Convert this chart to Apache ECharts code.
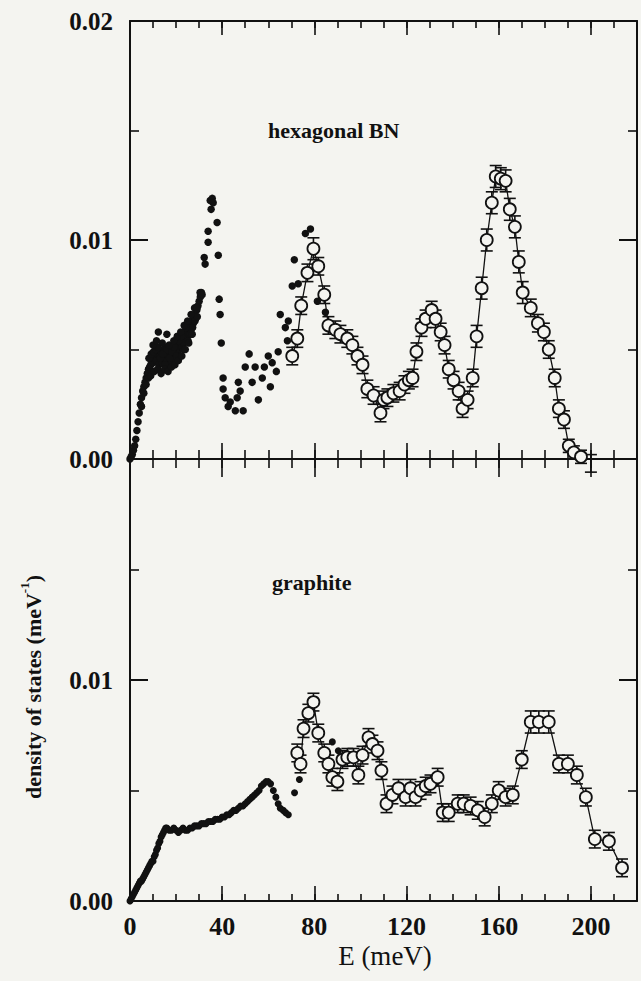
<!DOCTYPE html>
<html>
<head>
<meta charset="utf-8">
<script src="https://cdn.jsdelivr.net/npm/echarts@6/dist/echarts.min.js"></script>
<style>
  html, body { margin: 0; padding: 0; background: #f4f4f0; }
  #chart { width: 641px; height: 981px; }
</style>
</head>
<body>
<div id="chart"></div>
<script>
// ---- hexagonal BN: measured points (filled dots) ----
const hbnDotE = [
  0, 0.5, 1, 1.5, 2, 2.5, 3, 3.5, 4, 4.5, 5, 5.5, 6, 6.5, 7, 7.5, 8, 8.5, 9, 9.5,
  10, 10.5, 11, 11.5, 12, 12.5, 13, 13.5, 14, 14.5, 15, 15.5, 16, 16.5, 17, 17.5, 18, 18.5, 19, 19.5,
  20, 20.5, 21, 21.5, 22, 22.5, 23, 23.5, 24, 24.5, 25, 25.5, 26, 26.5, 27, 27.5, 28, 28.5, 29, 29.5,
  30, 30.5, 31,
  5, 6, 7, 8,
  8.2, 9.2, 10.2, 11.2, 12.2, 13.2, 14.2, 15.2, 16.2, 17.2, 18.2, 19.2, 20.2, 21.2, 22.2, 23.2, 24.2, 25.2, 26.2, 27.2, 28.2, 29.2,
  9, 10.5, 12, 13.5, 15, 16.5, 18, 19.5, 21, 22.5, 24, 25.5, 27,
  10, 11.5, 12.3, 14, 16, 17, 19, 20.5, 22, 23.5, 25, 26.5, 28, 29.1, 30.4,
  31.3, 32.2, 32.6, 33.9, 33.9, 34.8, 35.2, 35.7, 36.1, 37.8, 38.3, 38.7, 39.1, 39.6,
  40.4, 40.4, 41.3, 42.6, 43.5, 45.7, 46.5, 47.8, 49.1, 47.0, 50.0, 51.7, 53.0, 54.3,
  55.7, 57.4, 58.3, 60.0, 60.9, 61.7, 63.5, 64.3, 65.2, 67.4, 68.7, 68.3, 70.4, 71.3,
  73.0, 76.1, 78.3, 81.3, 84.8
];
const hbnDotDOS = [
  0.0000, 0.0001, 0.0002, 0.0004, 0.0006, 0.0009, 0.0013, 0.0017, 0.0021, 0.0025, 0.0028, 0.0031, 0.0033, 0.0035, 0.0037, 0.0039, 0.0041, 0.0042, 0.0043, 0.0045,
  0.0044, 0.0046, 0.0047, 0.0045, 0.0048, 0.0043, 0.0047, 0.0049, 0.0044, 0.0050, 0.0046, 0.0051, 0.0045, 0.0048, 0.0042, 0.0049, 0.0044, 0.0047, 0.0049, 0.0046,
  0.0050, 0.0048, 0.0052, 0.0050, 0.0053, 0.0051, 0.0055, 0.0053, 0.0057, 0.0055, 0.0059, 0.0057, 0.0061, 0.0059, 0.0063, 0.0062, 0.0066, 0.0064, 0.0068, 0.0070,
  0.0072, 0.0074, 0.0076,
  0.0024, 0.0030, 0.0034, 0.0037,
  0.0046, 0.0048, 0.0049, 0.0050, 0.0051, 0.0046, 0.0048, 0.0043, 0.0050, 0.0046, 0.0049, 0.0051, 0.0047, 0.0054, 0.0056, 0.0050, 0.0060, 0.0054, 0.0057, 0.0060, 0.0063, 0.0065,
  0.0038, 0.0040, 0.0041, 0.0039, 0.0041, 0.0040, 0.0042, 0.0043, 0.0045, 0.0047, 0.0050, 0.0053, 0.0057,
  0.0052, 0.0054, 0.0058, 0.0053, 0.0057, 0.0052, 0.0054, 0.0056, 0.0058, 0.0061, 0.0063, 0.0066, 0.0069, 0.0069, 0.0076,
  0.0075, 0.0092, 0.0089, 0.0099, 0.0104, 0.0118, 0.0114, 0.0119, 0.0117, 0.0108, 0.0093, 0.0073, 0.0066, 0.0053,
  0.0037, 0.0032, 0.0028, 0.0024, 0.0026, 0.0022, 0.0028, 0.0031, 0.0022, 0.0035, 0.0042, 0.0048, 0.0035, 0.0042,
  0.0027, 0.0037, 0.0042, 0.0047, 0.0033, 0.0044, 0.0040, 0.0049, 0.0066, 0.0060, 0.0063, 0.0054, 0.0079, 0.0091,
  0.0080, 0.0103, 0.0105, 0.0072, 0.0067
];

// ---- hexagonal BN: analysed spectrum (open circles, +/- error) ----
const hbnE = [
  70.4, 72.6, 74.3, 77.0, 79.6, 81.7, 84.3, 86.1, 89.1, 91.3, 94.3, 96.5, 98.7, 100.9, 103.0, 105.7,
  108.7, 110.0, 111.7, 114.3, 117.0, 119.1, 121.0, 122.6, 124.3, 126.5, 128.3, 130.9, 132.6, 134.8,
  136.5, 138.3, 140.4, 142.6, 144.3, 146.5, 148.7, 150.4, 152.6, 154.8, 157.0, 158.7, 160.9, 163.0,
  164.8, 167.0, 168.7, 170.4, 173.9, 177.0, 179.6, 181.7, 184.3, 186.1, 188.3, 190.4, 192.6, 195.7, 200.0
];
const hbnDOS = [
  0.0047, 0.0055, 0.0070, 0.0085, 0.0096, 0.0088, 0.0075, 0.0061, 0.0059, 0.0057, 0.0055, 0.0052, 0.0047, 0.0043, 0.0032, 0.0029,
  0.0021, 0.0027, 0.0028, 0.0030, 0.0031, 0.0034, 0.0036, 0.0037, 0.0049, 0.0060, 0.0064, 0.0068, 0.0064, 0.0058,
  0.0052, 0.0041, 0.0036, 0.0031, 0.0023, 0.0027, 0.0037, 0.0056, 0.0078, 0.0100, 0.0117, 0.0129, 0.0128, 0.0127,
  0.0114, 0.0106, 0.0090, 0.0076, 0.0069, 0.0062, 0.0058, 0.0050, 0.0037, 0.0023, 0.0018, 0.0006, 0.0003, 0.0001, -0.0002
];
const hbnErr = [
  0.0004, 0.0004, 0.0004, 0.0004, 0.0005, 0.0004, 0.0004, 0.0004, 0.0004, 0.0004, 0.0004, 0.0004, 0.0004, 0.0004, 0.0004, 0.0004,
  0.0004, 0.0004, 0.0004, 0.0004, 0.0004, 0.0004, 0.0004, 0.0004, 0.0004, 0.0004, 0.0004, 0.0004, 0.0004, 0.0004,
  0.0004, 0.0004, 0.0004, 0.0004, 0.0004, 0.0004, 0.0004, 0.0005, 0.0005, 0.0005, 0.0005, 0.0005, 0.0005, 0.0005,
  0.0005, 0.0005, 0.0005, 0.0005, 0.0004, 0.0004, 0.0004, 0.0004, 0.0004, 0.0004, 0.0004, 0.0003, 0.0003, 0.0003, 0.0004
];

// ---- graphite: measured points (filled dots) ----
const grDotE = [
  0, 0.5, 1, 1.5, 2, 2.5, 3, 3.5, 4, 4.5, 5, 5.5, 6, 6.5, 7, 7.5, 8, 8.5, 9, 9.5,
  10, 10.5, 11, 11.5, 12, 12.5, 13, 13.5, 14, 14.5, 15, 15.5, 16, 17, 18, 19,
  20, 21, 22, 23, 24, 25, 26, 27, 28, 29, 30, 31, 32, 33, 34, 35, 36, 37, 38, 39,
  40, 41, 42, 43, 44, 45, 46, 47, 48, 49, 50, 51, 52, 53, 54, 55, 56, 57, 58, 59,
  60, 61, 62.2, 63.3, 64.3, 65.2, 66.5, 67.5, 68.7, 71.4, 73.5, 87.8, 90.4
];
const grDotDOS = [
  0.0000, 0.0001, 0.0002, 0.0003, 0.0004, 0.0005, 0.0006, 0.0007, 0.0008, 0.0009, 0.0009, 0.0010, 0.0011, 0.0012, 0.0013, 0.0014, 0.0015, 0.0016, 0.0017, 0.0018,
  0.0018, 0.0020, 0.0021, 0.0023, 0.0024, 0.0026, 0.0027, 0.0029, 0.0030, 0.0031, 0.0032, 0.0033, 0.0033, 0.0032, 0.0032, 0.0033,
  0.0032, 0.0031, 0.0032, 0.0033, 0.0032, 0.0032, 0.0033, 0.0033, 0.0034, 0.0034, 0.0034, 0.0035, 0.0035, 0.0035, 0.0036, 0.0036, 0.0036, 0.0037, 0.0037, 0.0037,
  0.0038, 0.0038, 0.0039, 0.0039, 0.0040, 0.0041, 0.0041, 0.0042, 0.0043, 0.0043, 0.0044, 0.0045, 0.0046, 0.0047, 0.0048, 0.0049, 0.0050, 0.0052, 0.0053, 0.0054,
  0.0054, 0.0053, 0.0050, 0.0047, 0.0044, 0.0042, 0.0041, 0.0040, 0.0039, 0.0049, 0.0055, 0.0072, 0.0068
];

// ---- graphite: analysed spectrum (open circles, +/- error) ----
const grE = [
  72.6, 74.0, 75.3, 77.4, 79.6, 81.7, 84.3, 86.1, 87.8, 90.0, 92.2, 94.3, 97.0, 99.1, 100.9, 103.5,
  105.2, 107.4, 109.1, 111.3, 113.9, 116.5, 119.6, 121.7, 123.9, 126.1, 128.3, 130.4, 133.5, 135.7,
  138.3, 142.2, 144.8, 147.8, 150.9, 153.9, 157.0, 160.0, 163.0, 166.1, 170.0, 173.9, 177.4, 181.7,
  186.1, 190.0, 193.9, 197.8, 201.7, 207.8, 213.5
];
const grDOS = [
  0.0067, 0.0062, 0.0078, 0.0085, 0.0090, 0.0076, 0.0067, 0.0062, 0.0056, 0.0054, 0.0064, 0.0065, 0.0065, 0.0057, 0.0066, 0.0074,
  0.0071, 0.0068, 0.0059, 0.0044, 0.0048, 0.0051, 0.0047, 0.0051, 0.0047, 0.0050, 0.0052, 0.0053, 0.0056, 0.0040,
  0.0040, 0.0044, 0.0044, 0.0043, 0.0041, 0.0038, 0.0044, 0.0050, 0.0047, 0.0048, 0.0064, 0.0081, 0.0081, 0.0081,
  0.0062, 0.0062, 0.0057, 0.0047, 0.0028, 0.0027, 0.0015
];
const grErr = [
  0.0004, 0.0004, 0.0004, 0.0004, 0.0004, 0.0004, 0.0004, 0.0004, 0.0004, 0.0004, 0.0004, 0.0004, 0.0004, 0.0004, 0.0004, 0.0004,
  0.0004, 0.0004, 0.0004, 0.0004, 0.0004, 0.0004, 0.0004, 0.0004, 0.0004, 0.0004, 0.0004, 0.0004, 0.0004, 0.0004,
  0.0004, 0.0004, 0.0004, 0.0004, 0.0004, 0.0004, 0.0004, 0.0004, 0.0004, 0.0004, 0.0004, 0.0005, 0.0005, 0.0005,
  0.0004, 0.0004, 0.0004, 0.0004, 0.0004, 0.0004, 0.0004
];

// ---- axis ranges and labels ----
const eRange = [0, 220];
const eMajorStep = 40;
const eMinorStep = 10;
const dosRange = [0, 0.02];
const dosStep = 0.01;
const panelTitles = ['hexagonal BN', 'graphite'];
const xTitle = 'E (meV)';
const yTitleMain = 'density of states (meV';
const yTitleSup = '-1';

// ---- styling ----
const INK = '#111111';
const BG = '#f4f4f0';
const SERIF = '"Liberation Serif", "Times New Roman", serif';

const pairs = (xs, ys) => xs.map((x, i) => [x, ys[i]]);
const bars = (xs, ys, es) => xs.map((x, i) => [x, ys[i] - es[i], ys[i] + es[i]]);

function xAxisDef(grid, position, step, tickLen, showLine, showLabel) {
  return {
    type: 'value', gridIndex: grid, position: position,
    min: eRange[0], max: eRange[1], interval: step,
    axisLine: { show: showLine, onZero: false, lineStyle: { color: INK, width: 2 } },
    axisTick: { show: true, inside: true, length: tickLen, lineStyle: { color: INK, width: 1.6 } },
    splitLine: { show: false },
    axisLabel: {
      show: showLabel, color: INK, fontFamily: SERIF, fontSize: 26, fontWeight: 'bold', margin: 12,
      formatter: v => (v > eRange[1] - 5 ? '' : String(v))
    }
  };
}

function yAxisDef(grid, position, showLabel, hideTop) {
  return {
    type: 'value', gridIndex: grid, position: position,
    min: dosRange[0], max: dosRange[1], interval: dosStep,
    axisLine: { show: true, onZero: false, lineStyle: { color: INK, width: 2 } },
    axisTick: { show: true, inside: true, length: 18, lineStyle: { color: INK, width: 2 } },
    minorTick: { show: true, splitNumber: 2, length: 9, lineStyle: { color: INK, width: 1.6 } },
    splitLine: { show: false }, minorSplitLine: { show: false },
    axisLabel: {
      show: showLabel, color: INK, fontFamily: SERIF, fontSize: 25, fontWeight: 'bold', margin: 17,
      showMinLabel: true, showMaxLabel: true,
      formatter: v => (hideTop && v > dosRange[1] - dosStep / 2 ? '' : v.toFixed(2))
    }
  };
}

function errorBarSeries(xIdx, yIdx, data) {
  return {
    type: 'custom', xAxisIndex: xIdx, yAxisIndex: yIdx, z: 2, silent: true,
    data: data,
    renderItem: function (params, api) {
      const lo = api.coord([api.value(0), api.value(1)]);
      const hi = api.coord([api.value(0), api.value(2)]);
      const hw = 6;
      const st = { stroke: INK, lineWidth: 1.6 };
      return {
        type: 'group',
        children: [
          { type: 'line', shape: { x1: lo[0], y1: lo[1], x2: hi[0], y2: hi[1] }, style: st },
          { type: 'line', shape: { x1: lo[0] - hw, y1: lo[1], x2: lo[0] + hw, y2: lo[1] }, style: st },
          { type: 'line', shape: { x1: hi[0] - hw, y1: hi[1], x2: hi[0] + hw, y2: hi[1] }, style: st }
        ]
      };
    }
  };
}

function circleSeries(xIdx, yIdx, data) {
  return {
    type: 'line', xAxisIndex: xIdx, yAxisIndex: yIdx, z: 3, silent: true,
    data: data, clip: true, showAllSymbol: true,
    symbol: 'circle', symbolSize: 12,
    lineStyle: { color: INK, width: 1.3 },
    itemStyle: { color: BG, borderColor: INK, borderWidth: 1.8, opacity: 1 }
  };
}

function dotSeries(xIdx, yIdx, data, size) {
  return {
    type: 'scatter', xAxisIndex: xIdx, yAxisIndex: yIdx, z: 4, silent: true,
    data: data, symbol: 'circle', symbolSize: size, clip: true,
    itemStyle: { color: INK, opacity: 1 }
  };
}

const chart = echarts.init(document.getElementById('chart'), null, { renderer: 'svg' });

chart.setOption({
  backgroundColor: BG,
  animation: false,
  grid: [
    { left: 130, right: 4, top: 21, height: 438, outerBoundsMode: 'none' },
    { left: 130, right: 4, top: 459, height: 442, outerBoundsMode: 'none' }
  ],
  xAxis: [
    xAxisDef(0, 'bottom', eMajorStep, 16, true, false),
    xAxisDef(0, 'bottom', eMinorStep, 9, false, false),
    xAxisDef(0, 'top', eMajorStep, 14, true, false),
    xAxisDef(0, 'top', eMinorStep, 7, false, false),
    xAxisDef(1, 'bottom', eMajorStep, 15, true, true),
    xAxisDef(1, 'bottom', eMinorStep, 7, false, false),
    xAxisDef(1, 'top', eMajorStep, 18, true, false),
    xAxisDef(1, 'top', eMinorStep, 9, false, false)
  ],
  yAxis: [
    yAxisDef(0, 'left', true, false),
    yAxisDef(0, 'right', false, false),
    yAxisDef(1, 'left', true, true),
    yAxisDef(1, 'right', false, true)
  ],
  series: [
    errorBarSeries(0, 0, bars(hbnE, hbnDOS, hbnErr)),
    circleSeries(0, 0, pairs(hbnE, hbnDOS)),
    dotSeries(0, 0, pairs(hbnDotE, hbnDotDOS), 7.5),
    errorBarSeries(4, 2, bars(grE, grDOS, grErr)),
    circleSeries(4, 2, pairs(grE, grDOS)),
    dotSeries(4, 2, pairs(grDotE, grDotDOS), 7)
  ],
  graphic: [
    {
      type: 'text', left: 268, top: 119, silent: true,
      style: { text: panelTitles[0], fill: INK, font: 'bold 22px ' + SERIF }
    },
    {
      type: 'text', left: 272, top: 571, silent: true,
      style: { text: panelTitles[1], fill: INK, font: 'bold 22px ' + SERIF }
    },
    {
      type: 'text', x: 385, y: 956, silent: true,
      style: { text: xTitle, fill: INK, font: '27px ' + SERIF, align: 'center', verticalAlign: 'middle' }
    },
    {
      type: 'text', x: 31, y: 687, rotation: Math.PI / 2, silent: true,
      style: {
        text: '{a|' + yTitleMain + '}{s|' + yTitleSup + '}{a|)}',
        align: 'center', verticalAlign: 'middle',
        rich: {
          a: { fill: INK, font: 'bold 22px ' + SERIF, lineHeight: 26, verticalAlign: 'bottom' },
          s: { fill: INK, font: 'bold 13px ' + SERIF, lineHeight: 26, verticalAlign: 'top' }
        }
      }
    }
  ]
});
</script>
</body>
</html>
